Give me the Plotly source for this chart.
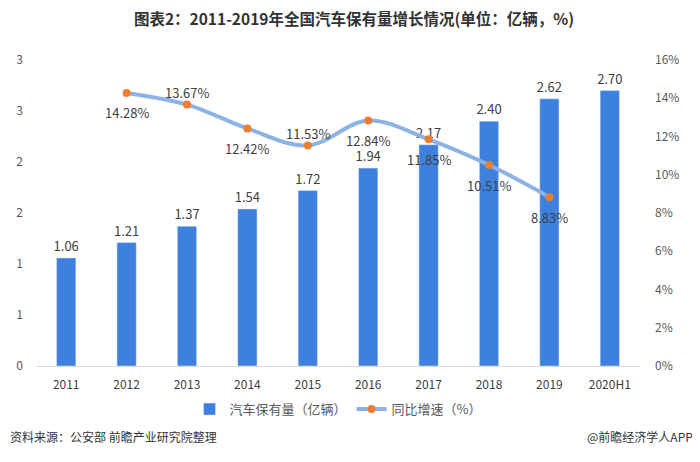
import plotly.graph_objects as go

categories = ["2011", "2012", "2013", "2014", "2015", "2016", "2017", "2018", "2019", "2020H1"]
vehicles = [1.06, 1.21, 1.37, 1.54, 1.72, 1.94, 2.17, 2.40, 2.62, 2.70]
growth_years = ["2012", "2013", "2014", "2015", "2016", "2017", "2018", "2019"]
growth = [14.28, 13.67, 12.42, 11.53, 12.84, 11.85, 10.51, 8.83]
growth_label_below = [True, False, True, False, True, True, True, True]
left_ticks = [0, 0.5, 1.0, 1.5, 2.0, 2.5, 3.0]
left_tick_text = ["0", "1", "1", "2", "2", "3", "3"]
right_ticks = [0, 2, 4, 6, 8, 10, 12, 14, 16]
right_tick_text = [f"{v}%" for v in right_ticks]

FONT = "Noto Sans CJK SC"
fig = go.Figure()
fig.add_trace(go.Bar(
    x=categories, y=vehicles, name="汽车保有量（亿辆）",
    marker_color="#3d80dd", width=0.32,
    text=[f"{v:.2f}" for v in vehicles], textposition="outside", constraintext="none",
    textfont=dict(size=13, color="#404040", family=FONT), cliponaxis=False,
))
fig.add_trace(go.Scatter(
    x=growth_years, y=growth, name="同比增速（%）", yaxis="y2",
    mode="lines+markers",
    line=dict(color="#8db3e6", width=4, shape="spline", smoothing=1.0),
    marker=dict(color="#ef7d2f", size=8), cliponaxis=False,
))
for yr, g, below in zip(growth_years, growth, growth_label_below):
    fig.add_annotation(x=categories.index(yr), y=g, xref="x", yref="y2", text=f"{g:.2f}%",
                       showarrow=False, yshift=-20 if below else 12,
                       font=dict(size=13, color="#404040", family=FONT))
fig.update_layout(
    width=692, height=454, plot_bgcolor="white", paper_bgcolor="white",
    margin=dict(l=28, r=60, t=52, b=96, autoexpand=False),
    font=dict(family=FONT, size=12, color="#595959"),
    title=dict(text="<b>图表2：2011-2019年全国汽车保有量增长情况(单位：亿辆，%)</b>",
               x=0.5, xanchor="center", y=0.974, yanchor="middle",
               font=dict(size=15.5, color="#333333", family=FONT)),
    xaxis=dict(type="category", categoryorder="array", categoryarray=categories,
               showgrid=False, showline=True, linecolor="#d9d9d9",
               tickfont=dict(size=12, color="#404040"), ticks="", automargin=False,
               ticklabelstandoff=8),
    yaxis=dict(range=[0, 3], tickvals=left_ticks, ticktext=left_tick_text,
               showgrid=False, zeroline=False, ticklabelstandoff=12, automargin=False,
               tickfont=dict(size=12, color="#595959")),
    yaxis2=dict(range=[0, 16], tickvals=right_ticks, ticktext=right_tick_text,
                overlaying="y", side="right", showgrid=False, zeroline=False,
                ticklabelstandoff=14, automargin=False,
                tickfont=dict(size=12, color="#595959")),
    legend=dict(orientation="h", x=0.5, xanchor="center", y=-0.092, yanchor="top",
                font=dict(size=13, color="#595959")),
)
fig.add_annotation(text="资料来源：公安部 前瞻产业研究院整理", xref="paper", yref="paper",
                   x=-0.0464, y=-0.232, xanchor="left", yanchor="middle", showarrow=False,
                   font=dict(size=12, color="#333333"))
fig.add_annotation(text="@前瞻经济学人APP", xref="paper", yref="paper",
                   x=1.091, y=-0.232, xanchor="right", yanchor="middle", showarrow=False,
                   font=dict(size=12, color="#333333"))
fig.write_html("out.html")
